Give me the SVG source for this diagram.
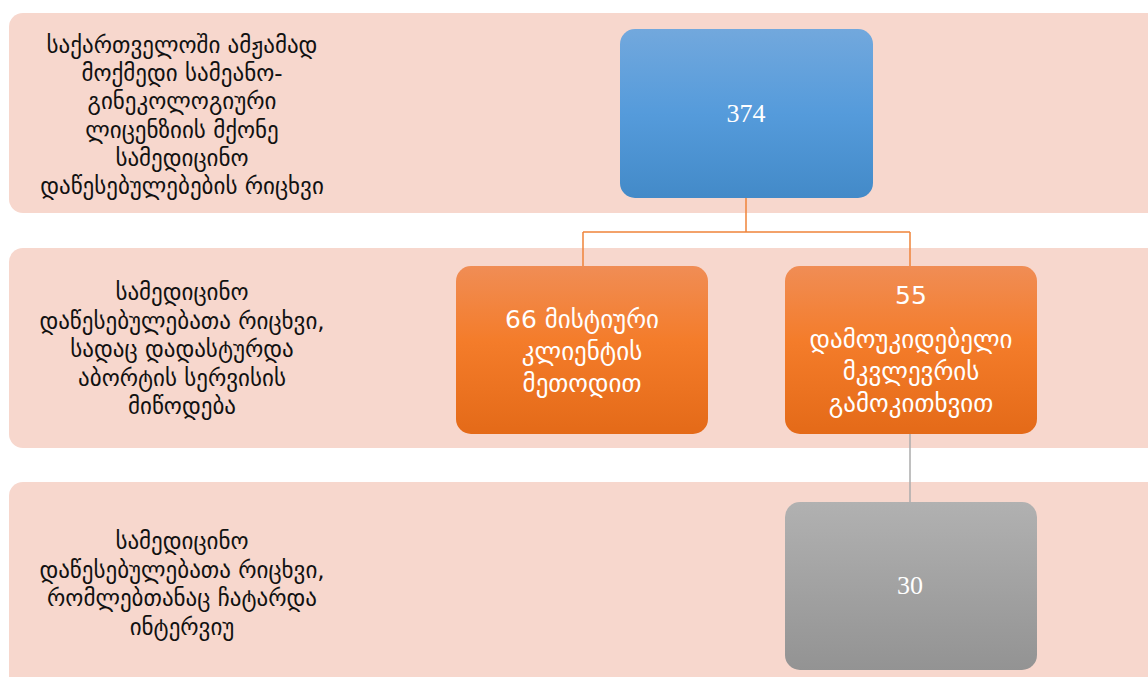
<svg xmlns="http://www.w3.org/2000/svg" width="1148" height="677" viewBox="0 0 1148 677">
<defs>
<linearGradient id="gBlue" x1="0" y1="0" x2="0" y2="1"><stop offset="0" stop-color="#72A8DD"/><stop offset="0.5" stop-color="#559BDB"/><stop offset="1" stop-color="#438AC8"/></linearGradient>
<linearGradient id="gOrange" x1="0" y1="0" x2="0" y2="1"><stop offset="0" stop-color="#F08D55"/><stop offset="0.45" stop-color="#F47C2A"/><stop offset="1" stop-color="#E46A18"/></linearGradient>
<linearGradient id="gGray" x1="0" y1="0" x2="0" y2="1"><stop offset="0" stop-color="#B1B1B1"/><stop offset="1" stop-color="#939393"/></linearGradient>
</defs>
<style>
.band{fill:#F7D7CD}
.lbl{font-family:"DejaVu Sans",sans-serif;font-size:23px;fill:#111;text-anchor:middle}
.num{font-family:"Liberation Serif",serif;font-size:26px;fill:#fff;text-anchor:middle}
.otx{font-family:"DejaVu Sans",sans-serif;font-size:25px;fill:#fff;text-anchor:middle}
.conO{stroke:#F0843A;stroke-width:1.5;fill:none}
.conG{stroke:#ABABAB;stroke-width:1.5;fill:none}
</style>
<rect width="1148" height="677" fill="#fff"/>
<g id="band1"><rect class="band" x="9" y="13" width="1160" height="200" rx="14"/>
<text class="lbl"><tspan x="182" y="53">საქართველოში ამჟამად</tspan><tspan x="182" y="81">მოქმედი სამეანო-</tspan><tspan x="182" y="109">გინეკოლოგიური</tspan><tspan x="182" y="138">ლიცენზიის მქონე</tspan><tspan x="182" y="166">სამედიცინო</tspan><tspan x="182" y="194">დაწესებულებების რიცხვი</tspan></text></g>
<g id="band2"><rect class="band" x="9" y="248" width="1160" height="200" rx="14"/>
<text class="lbl"><tspan x="182" y="300">სამედიცინო</tspan><tspan x="182" y="329">დაწესებულებათა რიცხვი,</tspan><tspan x="182" y="357">სადაც დადასტურდა</tspan><tspan x="182" y="386">აბორტის სერვისის</tspan><tspan x="182" y="414">მიწოდება</tspan></text></g>
<g id="band3"><rect class="band" x="9" y="482" width="1160" height="210" rx="14"/>
<text class="lbl"><tspan x="182" y="549">სამედიცინო</tspan><tspan x="182" y="578">დაწესებულებათა რიცხვი,</tspan><tspan x="182" y="606">რომლებთანაც ჩატარდა</tspan><tspan x="182" y="635">ინტერვიუ</tspan></text></g>
<g id="connectors">
<path class="conO" d="M746 198V232M583 232H910M583 232V266M910 232V266"/>
<path class="conG" d="M910 434V502"/>
</g>
<g id="n374"><rect x="620" y="29" width="253" height="169" rx="15" fill="url(#gBlue)"/><text class="num" x="746" y="122">374</text></g>
<g id="n66"><rect x="456" y="266" width="252" height="168" rx="15" fill="url(#gOrange)"/><text class="otx"><tspan x="582" y="328">66 მისტიური</tspan><tspan x="582" y="360">კლიენტის</tspan><tspan x="582" y="392">მეთოდით</tspan></text></g>
<g id="n55"><rect x="785" y="266" width="252" height="168" rx="15" fill="url(#gOrange)"/><text class="otx"><tspan x="911" y="304">55</tspan><tspan x="911" y="348">დამოუკიდებელი</tspan><tspan x="911" y="380">მკვლევრის</tspan><tspan x="911" y="412">გამოკითხვით</tspan></text></g>
<g id="n30"><rect x="785" y="502" width="252" height="168" rx="15" fill="url(#gGray)"/><text class="num" x="910" y="594">30</text></g>
</svg>
